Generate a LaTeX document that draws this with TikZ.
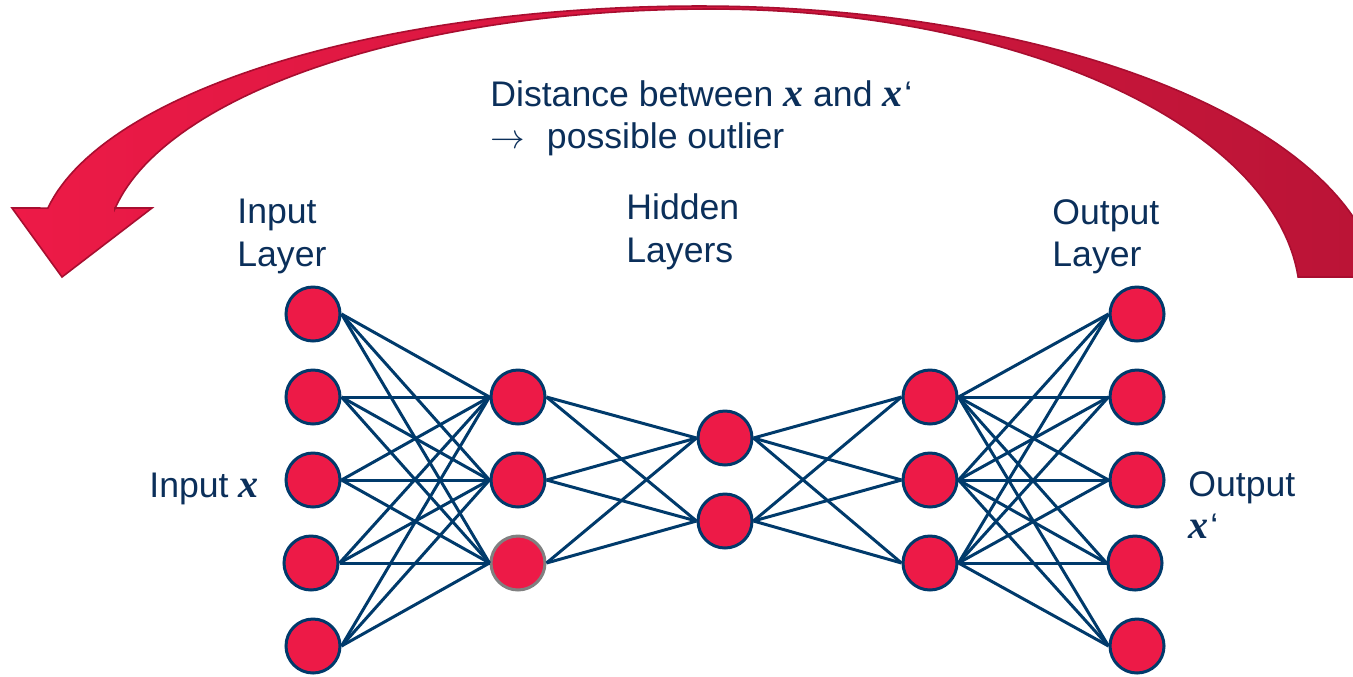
\documentclass[tikz,border=0pt]{standalone}
\usepackage{fontspec}
\setmainfont{Liberation Sans}
\newfontfamily\xf{Liberation Serif}
\definecolor{navy}{HTML}{003A6B}
\definecolor{txt}{HTML}{0B2F5A}
\definecolor{nred}{HTML}{ED1A47}
\definecolor{adark}{HTML}{BA1436}
\definecolor{aline}{HTML}{A80E30}
\newcommand{\bx}{{\xf\fontsize{20}{21}\selectfont\bfseries\itshape x}}
\newcommand{\bxq}{\bx\kern1pt‘}
\begin{document}
\begin{tikzpicture}[x=0.5pt,y=-0.5pt,
  neuron/.style={circle, draw=navy, line width=1.5pt, fill=nred, minimum size=27pt, inner sep=0pt},
  link/.style={draw=navy, line width=1.5pt},
  lbl/.style={font=\fontsize{17.8}{21}\selectfont, text=txt, anchor=base west, inner sep=0pt}]
\useasboundingbox (0,0) rectangle (1353,676);
% big curved arrow
\begin{scope}
\clip (0,0) rectangle (1353,676);
\path[left color=nred, right color=adark, draw=aline, line width=0.8pt, line join=miter]
  plot[domain=-4.49:-90, samples=60, variable=\t] ({700+681*cos(\t)},{300+294*sin(\t)})
  -- plot[domain=-90:-170.1, samples=60, variable=\t] ({700+662*cos(\t)},{250+244*sin(\t)})
  -- (12,208) -- (62,277) -- (152,208) -- (115,208)
  -- plot[domain=-170.1:-90, samples=60, variable=\t] ({710+604*cos(\t)},{250+241*sin(\t)})
  -- plot[domain=-90:-4.53, samples=60, variable=\t] ({710+590*cos(\t)},{300+291*sin(\t)})
  -- cycle;
\end{scope}
% neurons
\node[neuron] (i1) at (313,314) {};
\node[neuron] (i2) at (313,397) {};
\node[neuron] (i3) at (313,480) {};
\node[neuron] (i4) at (311,563) {};
\node[neuron] (i5) at (313,646) {};
\node[neuron] (h1) at (518,397) {};
\node[neuron] (h2) at (518,480) {};
\node[neuron, draw=gray] (h3) at (518,563) {};
\node[neuron] (m1) at (725,438) {};
\node[neuron] (m2) at (725,521) {};
\node[neuron] (g1) at (930,397) {};
\node[neuron] (g2) at (930,480) {};
\node[neuron] (g3) at (930,563) {};
\node[neuron] (o1) at (1137,314) {};
\node[neuron] (o2) at (1137,397) {};
\node[neuron] (o3) at (1137,480) {};
\node[neuron] (o4) at (1135,563) {};
\node[neuron] (o5) at (1137,646) {};
% connections
\foreach \a in {1,...,5}{\foreach \b in {1,2,3}{\draw[link] (i\a.east) -- (h\b.west);}}
\foreach \a in {1,2,3}{\foreach \b in {1,2}{\draw[link] (h\a.east) -- (m\b.west);}}
\foreach \a in {1,2}{\foreach \b in {1,2,3}{\draw[link] (m\a.east) -- (g\b.west);}}
\foreach \a in {1,2,3}{\foreach \b in {1,...,5}{\draw[link] (g\a.east) -- (o\b.west);}}
% labels
\node[lbl] (d1) at (490,106) {Distance between \bx\ and \bxq};
\node[lbl] (d2) at (490,148) {$\rightarrow$\hspace{11pt}possible outlier};
\node[lbl] (il1) at (237,223) {Input};
\node[lbl] (il2) at (237,266) {Layer};
\node[lbl] (hl1) at (626,219) {Hidden};
\node[lbl] (hl2) at (626,262) {Layers};
\node[lbl] (ol1) at (1052,224) {Output};
\node[lbl] (ol2) at (1052,266) {Layer};
\node[lbl] (ix) at (149,497) {Input \bx};
\node[lbl] (ox1) at (1188,496) {Output};
\node[lbl] (ox2) at (1188,538) {\bxq};
\end{tikzpicture}
\end{document}
